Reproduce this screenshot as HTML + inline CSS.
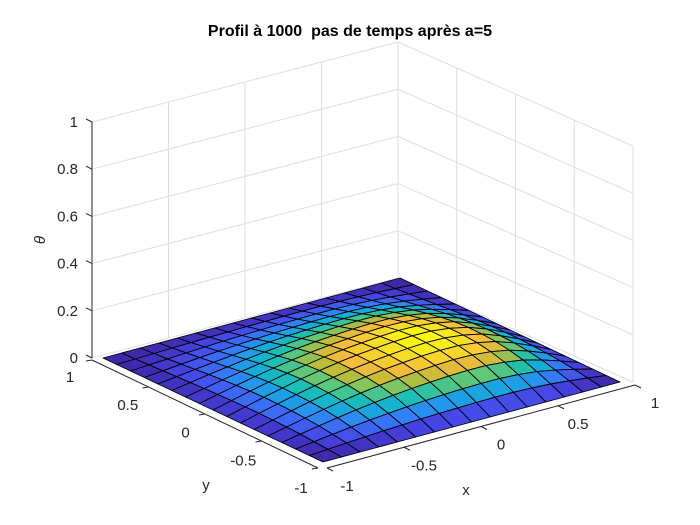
<!DOCTYPE html>
<html><head><meta charset="utf-8">
<style>
html,body{margin:0;padding:0;background:#fff;}
svg{display:block;font-family:"Liberation Sans",Arial,sans-serif;}
</style></head>
<body>
<svg id="chart" width="700" height="525" viewBox="0 0 700 525">
<rect x="0" y="0" width="700" height="525" fill="#fff"/>
<text x="350" y="36" text-anchor="middle" font-size="16" font-weight="bold" fill="#000" style="white-space:pre">Profil à 1000&#160; pas de temps après a=5</text>
<g id="walls"></g>
<g id="surf"></g>
<g id="axes"></g>
<text x="466" y="495" text-anchor="middle" font-size="15" fill="#262626">x</text>
<text x="206" y="490" text-anchor="middle" font-size="15" fill="#262626">y</text>
<text x="0" y="0" transform="translate(45,240) rotate(-90)" text-anchor="middle" font-size="15" font-style="italic" fill="#262626">θ</text>
</svg>
<script>
// ---- data ----
const xGrid = [-1,-0.875,-0.75,-0.625,-0.5,-0.375,-0.25,-0.125,0,0.125,0.25,0.375,0.5,0.625,0.75,0.875,1];
const yGrid = [-1,-0.875,-0.75,-0.625,-0.5,-0.375,-0.25,-0.125,0,0.125,0.25,0.375,0.5,0.625,0.75,0.875,1];
const profileX = [0,0.15,0.30,0.44,0.57,0.68,0.78,0.86,0.92,0.97,1.0,0.99,0.92,0.79,0.57,0.30,0];
const profileY = [0,0.27,0.51,0.72,0.86,0.95,0.99,1.0,0.96,0.88,0.77,0.64,0.5,0.36,0.23,0.11,0];
const peakTheta = 0.13;
const xTicks = [-1,-0.5,0,0.5,1];
const yTicks = [-1,-0.5,0,0.5,1];
const zTicks = [0,0.2,0.4,0.6,0.8,1];
const xTickLabels = ["-1","-0.5","0","0.5","1"];
const yTickLabels = ["-1","-0.5","0","0.5","1"];
const zTickLabels = ["0","0.2","0.4","0.6","0.8","1"];

const NS = "http://www.w3.org/2000/svg";
const F = [323,462], R = [620,382], L = [103,358];
const ux = [(R[0]-F[0])/2,(R[1]-F[1])/2], vy = [(L[0]-F[0])/2,(L[1]-F[1])/2];
const zScale = 236;
function P(x,y,z){
  return [F[0]+(x+1)*ux[0]+(y+1)*vy[0], F[1]+(x+1)*ux[1]+(y+1)*vy[1]-z*zScale];
}
const Lo=[92,358], Ro=[633,382], Bo=[398,278];
function zy(base,z){return base-z*zScale;}
function el(tag,attrs,parent){const e=document.createElementNS(NS,tag);for(const k in attrs)e.setAttribute(k,attrs[k]);parent.appendChild(e);return e;}
const walls=document.getElementById('walls');
zTicks.forEach((z,i)=>{
  const l=el('polyline',{points:`${Lo[0]},${zy(Lo[1],z)} ${Bo[0]},${zy(Bo[1],z)} ${Ro[0]},${zy(Ro[1],z)}`,fill:'none',stroke:'#dedede','stroke-width':1},walls);
  
  
});
xTicks.forEach(x=>{
  const t=(x+1)/2;
  const bx=Lo[0]+t*(Bo[0]-Lo[0]), by=Lo[1]+t*(Bo[1]-Lo[1]);
  const l=el('line',{x1:bx,y1:by,x2:bx,y2:by-zScale,stroke:x===1?'#cfcfcf':'#dedede','stroke-width':1},walls);
  
  
});
yTicks.forEach(y=>{
  const t=(1-y)/2;
  const bx=Bo[0]+t*(Ro[0]-Bo[0]), by=Bo[1]+t*(Ro[1]-Bo[1]);
  const l=el('line',{x1:bx,y1:by,x2:bx,y2:by-zScale,stroke:'#dedede','stroke-width':1},walls);
  
  
});
const stops=[[0,[62,38,168]],[0.12,[70,72,232]],[0.25,[55,118,252]],[0.34,[36,150,236]],[0.43,[16,178,212]],[0.52,[30,192,175]],[0.62,[100,200,115]],[0.72,[190,188,55]],[0.82,[250,188,60]],[0.91,[246,218,40]],[1,[249,251,14]]];
function parula(t){t=Math.max(0,Math.min(1,t));for(let i=1;i<stops.length;i++){if(t<=stops[i][0]){const a=stops[i-1],b=stops[i];const f=(t-a[0])/(b[0]-a[0]);const c=a[1].map((v,k)=>Math.round(v+f*(b[1][k]-v)));return `rgb(${c[0]},${c[1]},${c[2]})`;}}return 'rgb(249,251,14)';}
const Z=xGrid.map((x,i)=>yGrid.map((y,j)=>peakTheta*profileX[i]*profileY[j]));
let zmin=Infinity,zmax=-Infinity;Z.forEach(r=>r.forEach(v=>{zmin=Math.min(zmin,v);zmax=Math.max(zmax,v);}));
const faces=[];
for(let i=0;i<xGrid.length-1;i++)for(let j=0;j<yGrid.length-1;j++){
  const pts=[[i,j],[i+1,j],[i+1,j+1],[i,j+1]].map(([a,b])=>P(xGrid[a],yGrid[b],Z[a][b]));
  const cz=(Z[i][j]+Z[i+1][j]+Z[i+1][j+1]+Z[i][j+1])/4;
  const depth=P((xGrid[i]+xGrid[i+1])/2,(yGrid[j]+yGrid[j+1])/2,0)[1];
  faces.push({pts,cz,depth});
}
faces.sort((a,b)=>a.depth-b.depth);
const surf=document.getElementById('surf');
faces.forEach(f=>{
  const p=el('polygon',{points:f.pts.map(q=>q[0].toFixed(1)+','+q[1].toFixed(1)).join(' '),fill:parula((f.cz-zmin)/(zmax-zmin)),stroke:'#000','stroke-width':0.9,'stroke-linejoin':'round'},surf);
  
  
});
const axes=document.getElementById('axes');
const ax='#262626';
let a=el('line',{x1:92,y1:zy(358,1),x2:92,y2:358,stroke:ax,'stroke-width':1},axes);

zTicks.forEach((z,i)=>{
  const y=zy(358,z);
  const t=el('line',{x1:86,y1:y-3,x2:92,y2:y,stroke:ax,'stroke-width':1},axes);
  
  const tx=el('text',{x:78,y:y+5,'text-anchor':'end','font-size':15,fill:ax},axes);
  tx.textContent=zTickLabels[i];
  
});
const yA0=[92,360], yA1=[318,468];
a=el('line',{x1:yA0[0],y1:yA0[1],x2:yA1[0],y2:yA1[1],stroke:ax,'stroke-width':1},axes);

yTicks.forEach((y,i)=>{
  const t=(1-y)/2;
  const px=yA0[0]+t*(yA1[0]-yA0[0]), py=yA0[1]+t*(yA1[1]-yA0[1]);
  const tk=el('line',{x1:px,y1:py,x2:px-6,y2:py+1,stroke:ax,'stroke-width':1},axes);
  
  const ox=-22+t*5, oy=22+t*3;
  const tx=el('text',{x:px+ox,y:py+oy,'text-anchor':'middle','font-size':15,fill:ax},axes);
  tx.textContent=yTickLabels[i];
  
});
const xA0=[327,468], xA1=[635,385];
a=el('line',{x1:xA0[0],y1:xA0[1],x2:xA1[0],y2:xA1[1],stroke:ax,'stroke-width':1},axes);

xTicks.forEach((x,i)=>{
  const t=(x+1)/2;
  const px=xA0[0]+t*(xA1[0]-xA0[0]), py=xA0[1]+t*(xA1[1]-xA0[1]);
  const tk=el('line',{x1:px,y1:py,x2:px+6,y2:py+3,stroke:ax,'stroke-width':1},axes);
  
  const tx=el('text',{x:px+20,y:py+23,'text-anchor':'middle','font-size':15,fill:ax},axes);
  tx.textContent=xTickLabels[i];
  
});
</script>
</body></html>
